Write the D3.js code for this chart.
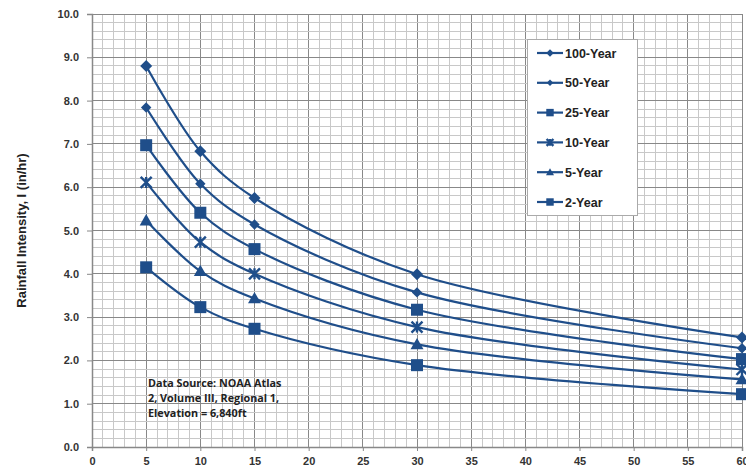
<!DOCTYPE html>
<html><head><meta charset="utf-8">
<script src="https://cdn.jsdelivr.net/npm/d3@7"></script>
<style>body{margin:0;background:#fff;} svg{display:block;}</style>
</head><body>
<svg id="c" width="746" height="475"></svg>
<script>
const durations = [5, 10, 15, 30, 60];
const seriesNames = ["100-Year", "50-Year", "25-Year", "10-Year", "5-Year", "2-Year"];
const y100 = [8.8, 6.83, 5.75, 3.99, 2.53];
const y50 = [7.84, 6.08, 5.14, 3.57, 2.28];
const y25 = [6.97, 5.41, 4.57, 3.17, 2.03];
const y10 = [6.11, 4.73, 4.0, 2.77, 1.79];
const y5 = [5.23, 4.06, 3.43, 2.37, 1.56];
const y2 = [4.15, 3.23, 2.73, 1.89, 1.22];
const markers = ["diamond", "diamondSmall", "square", "cross", "triangle", "square"];
const xTicks = [0, 5, 10, 15, 20, 25, 30, 35, 40, 45, 50, 55, 60];
const yTicks = [0, 1, 2, 3, 4, 5, 6, 7, 8, 9, 10];
const noteLines = ["Data Source: NOAA Atlas", "2, Volume III, Regional 1,", "Elevation = 6,840ft"];
const yTitle = "Rainfall Intensity, I (in/hr)";

const values = [y100, y50, y25, y10, y5, y2];
const color = "#1f4e8a";
const svg = d3.select("#c");
const x = d3.scaleLinear().domain([0, 60]).range([92, 742]);
const y = d3.scaleLinear().domain([0, 10]).range([447, 14]);

// grid
const g = svg.append("g");
const minorX = d3.range(0, 61, 1), minorY = d3.range(0, 10.01, 0.2);
g.selectAll(".mx").data(minorX).enter().append("line")
  .attr("x1", d => x(d)).attr("x2", d => x(d)).attr("y1", y(0)).attr("y2", y(10))
  .attr("stroke", d => d % 5 === 0 ? "#888" : "#c8c8c8").attr("stroke-width", 1)
  .attr("shape-rendering", "crispEdges");
g.selectAll(".my").data(minorY).enter().append("line")
  .attr("y1", d => y(d)).attr("y2", d => y(d)).attr("x1", x(0)).attr("x2", x(60))
  .attr("stroke", d => Math.abs(d - Math.round(d)) < 1e-6 ? "#888" : "#c8c8c8").attr("stroke-width", 1)
  .attr("shape-rendering", "crispEdges");

// axes
const xAxis = d3.axisBottom(x).tickValues(xTicks).tickFormat(d3.format("d")).tickSize(4).tickPadding(6);
const yAxis = d3.axisLeft(y).tickValues(yTicks).tickFormat(d3.format(".1f")).tickSize(5).tickPadding(8);
const xa = svg.append("g").attr("transform", `translate(0,${y(0)})`).call(xAxis);
const ya = svg.append("g").attr("transform", `translate(${x(0)},0)`).call(yAxis);
[xa, ya].forEach(a => {
  a.select(".domain").attr("stroke", "#888").attr("stroke-width", 1.5);
  a.selectAll(".tick line").attr("stroke", "#888");
  a.selectAll("text").attr("fill", "#333").style("font-family", "Liberation Sans, Arial, sans-serif")
    .style("font-weight", "bold").style("font-size", "11px");
});

svg.append("text").attr("transform", `translate(26,${y(5)}) rotate(-90)`)
  .attr("text-anchor", "middle").attr("fill", "#222")
  .style("font-family", "Liberation Sans, Arial, sans-serif").style("font-weight", "bold").style("font-size", "13px")
  .text(yTitle);

// markers
function drawMarker(sel, type, cx, cy, scale) {
  const s = scale || 1;
  if (type === "diamond" || type === "diamondSmall") {
    const r = (type === "diamond" ? 6 : 5.2) * s;
    sel.append("path").attr("d", `M${cx},${cy - r}L${cx + r},${cy}L${cx},${cy + r}L${cx - r},${cy}Z`).attr("fill", color);
  } else if (type === "square") {
    const h = 6 * s;
    sel.append("rect").attr("x", cx - h).attr("y", cy - h).attr("width", 2 * h).attr("height", 2 * h).attr("fill", color);
  } else if (type === "triangle") {
    const h = 6.5 * s;
    sel.append("path").attr("d", `M${cx},${cy - h}L${cx + h},${cy + h * 0.75}L${cx - h},${cy + h * 0.75}Z`).attr("fill", color);
  } else if (type === "cross") {
    const h = 5.5 * s;
    sel.append("path").attr("d", `M${cx - h},${cy - h}L${cx + h},${cy + h}M${cx - h},${cy + h}L${cx + h},${cy - h}M${cx},${cy - h}L${cx},${cy + h}`)
      .attr("stroke", color).attr("stroke-width", 2.4).attr("fill", "none");
  }
}

const line = d3.line().x(d => x(d[0])).y(d => y(d[1])).curve(d3.curveCatmullRom.alpha(0.5));
values.forEach((vals, i) => {
  const pts = durations.map((d, j) => [d, vals[j]]);
  svg.append("path").attr("d", line(pts)).attr("fill", "none").attr("stroke", color).attr("stroke-width", 2.2);
  const mg = svg.append("g");
  pts.forEach(p => drawMarker(mg, markers[i], x(p[0]), y(p[1])));
});

// legend
const lg = svg.append("g");
lg.append("rect").attr("x", 527.5).attr("y", 39.5).attr("width", 110).attr("height", 176)
  .attr("fill", "#fff").attr("stroke", "#aaa").attr("stroke-width", 1);
seriesNames.forEach((n, i) => {
  const ly = 53 + i * 29.8;
  lg.append("line").attr("x1", 537).attr("x2", 563).attr("y1", ly).attr("y2", ly).attr("stroke", color).attr("stroke-width", 2.2);
  drawMarker(lg, markers[i], 550, ly, 0.62);
  lg.append("text").attr("x", 565).attr("y", ly + 4.5).attr("fill", "#222")
    .style("font-family", "Liberation Sans, Arial, sans-serif").style("font-weight", "bold").style("font-size", "12.5px").text(n);
});

// note
noteLines.forEach((t, i) => {
  svg.append("text").attr("x", 148).attr("y", 387 + i * 15).attr("fill", "#222")
    .style("font-family", "Open Sans, sans-serif").style("font-weight", "bold").style("font-size", "10.8px").text(t);
});
</script>
</body></html>
